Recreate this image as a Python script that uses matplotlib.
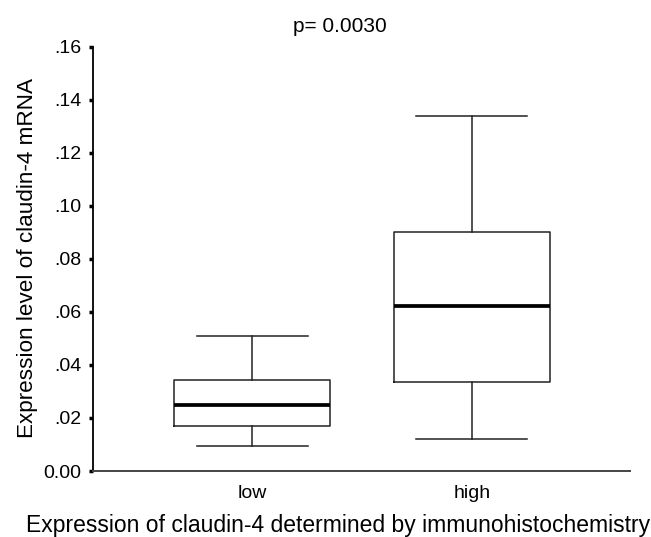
import matplotlib
matplotlib.use("Agg")
import matplotlib.pyplot as plt
from matplotlib.ticker import FixedLocator

plt.rcParams['font.family'] = ['Liberation Sans', 'DejaVu Sans']

# Box statistics
groups = ["low", "high"]
whislo = [0.0093, 0.0120]
q1 = [0.0170, 0.0336]
med = [0.0249, 0.0621]
q3 = [0.0342, 0.0901]
whishi = [0.0509, 0.1340]

y_ticks = [0.00, 0.02, 0.04, 0.06, 0.08, 0.10, 0.12, 0.14, 0.16]
y_tick_labels = ["0.00", ".02", ".04", ".06", ".08", ".10", ".12", ".14", ".16"]

stats = []
for i in range(len(groups)):
    stats.append({
        "label": groups[i],
        "whislo": whislo[i],
        "q1": q1[i],
        "med": med[i],
        "q3": q3[i],
        "whishi": whishi[i],
        "fliers": [],
    })

fig = plt.figure(figsize=(6.51, 5.37), dpi=100)
ax = fig.add_axes([0.1429, 0.1229, 0.8249, 0.7901])

ax.bxp(stats, positions=[1, 2], widths=0.71, showfliers=False,
       boxprops=dict(color="#222222", linewidth=1.1),
       whiskerprops=dict(color="#222222", linewidth=1.1),
       capprops=dict(color="#222222", linewidth=1.1),
       medianprops=dict(color="black", linewidth=2.7),
       capwidths=0.505)

ax.set_xlim(0.2763, 2.7205)
ax.set_ylim(0, 0.16)
ax.yaxis.set_major_locator(FixedLocator(y_ticks))
ax.set_yticklabels(y_tick_labels)
ax.set_xticks([1, 2])
ax.set_xticklabels(groups)

for s in ["top", "right"]:
    ax.spines[s].set_visible(False)
ax.spines["left"].set_linewidth(1.3)
ax.spines["left"].set_color("black")
ax.spines["bottom"].set_linewidth(1.4)
ax.spines["bottom"].set_color("#444444")

ax.tick_params(axis="y", length=3, width=2.5, labelsize=14, pad=5.5, direction="out")
ax.tick_params(axis="x", length=0, labelsize=14, pad=10)

ax.set_ylabel("Expression level of claudin-4 mRNA", fontsize=16.2)
ax.yaxis.label.set_rotation_mode("anchor")
ax.yaxis.label.set_ha("center")
ax.yaxis.label.set_va("baseline")
ax.yaxis.set_label_coords(33 / 651, 1 - 258 / 537, transform=fig.transFigure)

ax.set_xlabel("Expression of claudin-4 determined by immunohistochemistry", fontsize=16.5)
ax.xaxis.label.set_va("baseline")
ax.xaxis.set_label_coords(338 / 651, 1 - 532 / 537, transform=fig.transFigure)

fig.text(339.5 / 651, 1 - 32 / 537, "p= 0.0030", ha="center", va="baseline", fontsize=15)

fig.savefig("out.png", dpi=100)
